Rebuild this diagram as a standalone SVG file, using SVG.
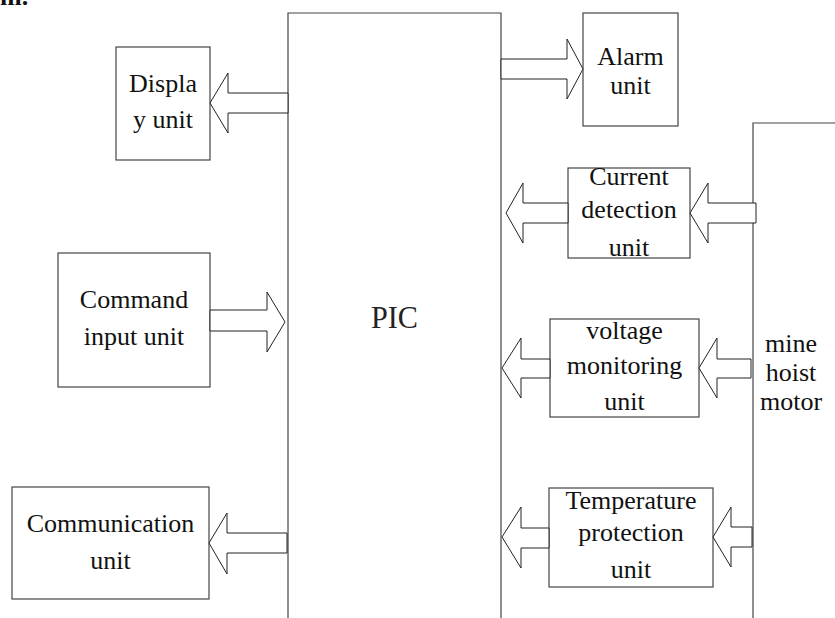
<svg xmlns="http://www.w3.org/2000/svg" width="835" height="618" viewBox="0 0 835 618">
<style>
.box{fill:#fff;stroke:#444;stroke-width:1.2}
.frame{fill:none;stroke:#444;stroke-width:1.2}
.arr{fill:#fff;stroke:#222;stroke-width:1}
text{font-family:"Liberation Serif","Times New Roman",serif;font-size:26px;fill:#111;text-anchor:middle}
.pic{font-size:31px;fill:#222}
</style>
<rect width="835" height="618" fill="#fff"/>
<text x="0" y="5" style="text-anchor:start;font-weight:bold">m.</text>
<g id="pic">
<path class="frame" d="M288,618 V13 H501 V618"/>
<text class="pic" x="394.5" y="328" textLength="47" lengthAdjust="spacingAndGlyphs">PIC</text>
</g>
<g id="motor">
<path class="frame" d="M753,618 V123 H835"/>
<text x="791" y="352">mine</text>
<text x="791" y="381">hoist</text>
<text x="791" y="410">motor</text>
</g>
<g id="display">
<rect class="box" x="116" y="47" width="94" height="113"/>
<text x="163" y="92">Displa</text>
<text x="163" y="128">y unit</text>
</g>
<g id="alarm">
<rect class="box" x="583" y="13" width="95" height="113"/>
<text x="630.5" y="65">Alarm</text>
<text x="630.5" y="94">unit</text>
</g>
<g id="command">
<rect class="box" x="58" y="253" width="152" height="134"/>
<text x="134" y="308">Command</text>
<text x="134" y="345">input unit</text>
</g>
<g id="communication">
<rect class="box" x="12" y="487" width="197" height="112"/>
<text x="110.5" y="532">Communication</text>
<text x="110.5" y="569">unit</text>
</g>
<g id="current">
<rect class="box" x="568" y="168" width="122" height="90"/>
<text x="629" y="185">Current</text>
<text x="629" y="218">detection</text>
<text x="629" y="256">unit</text>
</g>
<g id="voltage">
<rect class="box" x="550" y="319" width="149" height="98"/>
<text x="624.5" y="339">voltage</text>
<text x="624.5" y="374">monitoring</text>
<text x="624.5" y="410">unit</text>
</g>
<g id="temperature">
<rect class="box" x="549" y="488" width="164" height="99"/>
<text x="631" y="509">Temperature</text>
<text x="631" y="541">protection</text>
<text x="631" y="578">unit</text>
</g>
<g id="connectors">
<polygon class="arr" points="288,93 228,93 228,73 210,103 228,133 228,113 288,113"/>
<polygon class="arr" points="501,59 567,59 567,39 583,69 567,99 567,79 501,79"/>
<polygon class="arr" points="210,310 267,310 267,292 285,322 267,352 267,331 210,331"/>
<polygon class="arr" points="287,533 227,533 227,513 209,543 227,574 227,553 287,553"/>
<polygon class="arr" points="568,203 523,203 523,183 506,213 523,243 523,223 568,223"/>
<polygon class="arr" points="756,203 708,203 708,183 690,213 708,243 708,223 756,223"/>
<polygon class="arr" points="550,359 521,359 521,338 502,368 521,398 521,378 550,378"/>
<polygon class="arr" points="751,359 717,359 717,338 699,368 717,398 717,378 751,378"/>
<polygon class="arr" points="549,528 521,528 521,507 502,537 521,568 521,548 549,548"/>
<polygon class="arr" points="752,527 731,527 731,507 713,537 731,567 731,547 752,547"/>
</g>
</svg>
